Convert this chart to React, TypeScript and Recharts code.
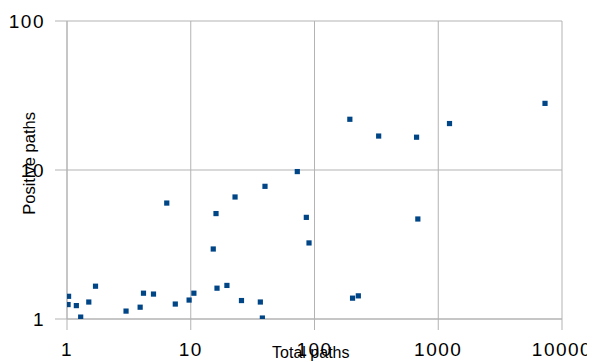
import React from 'react';
import { ScatterChart, Scatter, XAxis, YAxis, CartesianGrid, Label } from 'recharts';

const totalPaths = [1.03, 1.02, 1.19, 1.29, 1.5, 1.7, 3.0, 3.9, 4.15, 5.0, 6.4, 7.5, 9.7, 10.6, 15.2, 16.0, 16.3, 19.6, 22.8, 25.7, 36.5, 37.9, 39.8, 72.6, 85.9, 90.3, 193, 203, 226, 330, 668, 684, 1233, 7290];
const positivePaths = [1.42, 1.25, 1.23, 1.03, 1.3, 1.66, 1.13, 1.2, 1.49, 1.47, 6.0, 1.26, 1.34, 1.49, 2.95, 5.1, 1.61, 1.68, 6.59, 1.33, 1.3, 1.015, 7.77, 9.76, 4.81, 3.24, 21.9, 1.38, 1.43, 16.9, 16.6, 4.69, 20.5, 28.0];
const xTicks = [1, 10, 100, 1000, 10000];
const yTicks = [1, 10, 100];
const xTitle = 'Total paths';
const yTitle = 'Positive paths';

const data = totalPaths.map((x, i) => ({ x, y: positivePaths[i] }));

const FONT = 'Liberation Sans, Arial, sans-serif';
const GRID = '#b3b3b3';
const BLUE = '#004586';

const SquareDot = (props: any) => {
  const { cx, cy } = props;
  return <rect x={cx - 2.6} y={cy - 2.6} width={5.2} height={5.2} fill={BLUE} />;
};

const tickStyle = { fontSize: 19, fill: '#000', fontFamily: FONT, letterSpacing: 1.5 };

export default function App() {
  return (
    <ScatterChart width={587} height={354} margin={{ top: 13, right: 33, left: 0, bottom: 0 }}>
      <CartesianGrid stroke={GRID} strokeWidth={1} />
      <XAxis
        type="number"
        dataKey="x"
        scale="log"
        domain={[1, 10000]}
        ticks={xTicks}
        allowDataOverflow
        height={43}
        tickSize={11}
        tickMargin={13}
        tick={tickStyle}
        stroke={GRID}
        tickLine={{ stroke: GRID }}
        axisLine={{ stroke: GRID }}
        interval={0}
      >
        <Label
          content={() => (
            <text x={302.8} y={349.5} textAnchor="middle" fontSize={16} fontFamily={FONT} fill="#000">
              {xTitle}
            </text>
          )}
        />
      </XAxis>
      <YAxis
        type="number"
        dataKey="y"
        scale="log"
        domain={[1, 100]}
        ticks={yTicks}
        allowDataOverflow
        width={59}
        tickSize={12}
        tickMargin={10}
        tick={tickStyle}
        stroke={GRID}
        tickLine={{ stroke: GRID }}
        axisLine={{ stroke: GRID }}
        interval={0}
      >
        <Label
          content={() => (
            <text
              transform="translate(27,155.4) rotate(-90)"
              textAnchor="middle"
              fontSize={16.5}
              fontFamily={FONT}
              fill="#000"
            >
              {yTitle}
            </text>
          )}
        />
      </YAxis>
      <Scatter data={data} fill={BLUE} shape={SquareDot} isAnimationActive={false} />
    </ScatterChart>
  );
}
